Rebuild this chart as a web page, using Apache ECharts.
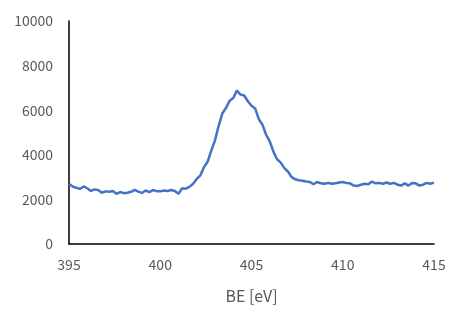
<!DOCTYPE html>
<html>
<head>
<meta charset="utf-8">
<script src="https://cdn.jsdelivr.net/npm/echarts@6/dist/echarts.min.js"></script>
<style>
  html, body { margin: 0; padding: 0; background: #fff; }
  #container { width: 450px; height: 309px; }
</style>
</head>
<body>
<div id="container"></div>
<script>
// binding energy (eV)
var energy = [
  395.0, 395.2, 395.4, 395.6, 395.8, 396.0, 396.2, 396.4, 396.6, 396.8,
  397.0, 397.2, 397.4, 397.6, 397.8, 398.0, 398.2, 398.4, 398.6, 398.8,
  399.0, 399.2, 399.4, 399.6, 399.8, 400.0, 400.2, 400.4, 400.6, 400.8,
  401.0, 401.2, 401.4, 401.6, 401.8, 402.0, 402.2, 402.4, 402.6, 402.8,
  403.0, 403.2, 403.4, 403.6, 403.8, 404.0, 404.2, 404.4, 404.6, 404.8,
  405.0, 405.2, 405.4, 405.6, 405.8, 406.0, 406.2, 406.4, 406.6, 406.8,
  407.0, 407.2, 407.4, 407.6, 407.8, 408.0, 408.2, 408.4, 408.6, 408.8,
  409.0, 409.2, 409.4, 409.6, 409.8, 410.0, 410.2, 410.4, 410.6, 410.8,
  411.0, 411.2, 411.4, 411.6, 411.8, 412.0, 412.2, 412.4, 412.6, 412.8,
  413.0, 413.2, 413.4, 413.6, 413.8, 414.0, 414.2, 414.4, 414.6, 414.8,
  415.0
];
// intensity
var intensity = [
  2700, 2580, 2520, 2470, 2580, 2500, 2380, 2450, 2420, 2300,
  2360, 2340, 2380, 2250, 2330, 2280, 2300, 2340, 2430, 2350,
  2290, 2400, 2330, 2420, 2370, 2360, 2400, 2380, 2420, 2380,
  2250, 2500, 2480, 2560, 2700, 2920, 3080, 3450, 3700, 4200,
  4650, 5300, 5850, 6100, 6420, 6550, 6880, 6700, 6660, 6400,
  6200, 6080, 5600, 5350, 4900, 4600, 4150, 3800, 3650, 3400,
  3250, 3000, 2900, 2860, 2840, 2800, 2780, 2680, 2780, 2720,
  2700, 2740, 2700, 2720, 2760, 2780, 2740, 2720, 2620, 2600,
  2660, 2700, 2680, 2800, 2720, 2740, 2700, 2760, 2700, 2740,
  2660, 2620, 2720, 2620, 2740, 2720, 2620, 2660, 2740, 2700,
  2750
];

var points = [];
for (var i = 0; i < energy.length; i++) {
    points.push([energy[i], intensity[i]]);
}

var font = '"Noto Sans CJK JP", "Noto Sans", sans-serif';
var grey = '#595959';

var myChart = echarts.init(document.getElementById('container'));
var option = {
    animation: false,
    grid: {
        left: 69,
        right: 16,
        top: 21,
        bottom: 65
    },
    xAxis: {
        type: 'value',
        min: 395,
        max: 415,
        interval: 5,
        name: 'BE [eV]',
        nameLocation: 'middle',
        nameGap: 44,
        nameTextStyle: { color: grey, fontSize: 16, fontFamily: font },
        axisLine: { onZero: false, lineStyle: { color: '#000', width: 1.5 } },
        axisTick: { show: false },
        splitLine: { show: false },
        axisLabel: { color: grey, fontSize: 14, fontFamily: font, margin: 14 }
    },
    yAxis: {
        type: 'value',
        min: 0,
        max: 10000,
        interval: 2000,
        axisLine: { show: true, lineStyle: { color: '#000', width: 1.5 } },
        axisTick: { show: false },
        splitLine: { show: false },
        axisLabel: {
            color: grey, fontSize: 14, fontFamily: font, margin: 16,
            formatter: function (v) { return String(v); }
        }
    },
    series: [
        {
            type: 'line',
            data: points,
            showSymbol: false,
            smooth: false,
            lineStyle: { color: '#4472C4', width: 2.5 },
            itemStyle: { color: '#4472C4' }
        }
    ]
};
myChart.setOption(option);
</script>
</body>
</html>
